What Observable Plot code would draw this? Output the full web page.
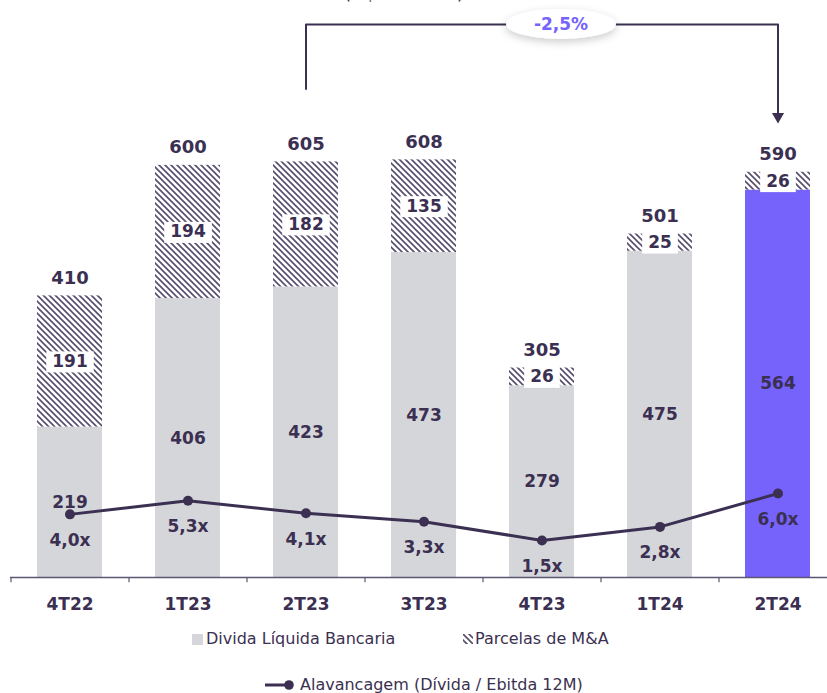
<!DOCTYPE html>
<html><head><meta charset="utf-8">
<script src="https://cdn.jsdelivr.net/npm/d3@7"></script>
<script src="https://cdn.jsdelivr.net/npm/@observablehq/plot@0.6"></script>
<style>
body{margin:0;background:#fff;font-family:"DejaVu Sans",Verdana,sans-serif;}
#wrap{position:relative;width:827px;height:693px;overflow:hidden;}
#chart{position:absolute;left:0;top:0;}
.leg{position:absolute;display:flex;align-items:center;font-size:16px;color:#3b3050;white-space:nowrap;line-height:20px;}
.top{position:absolute;left:0;width:808px;text-align:center;top:-20px;font-size:19px;color:#3b3050;line-height:24px;}
</style></head><body>
<svg width="0" height="0" style="position:absolute">
<defs>
<pattern id="hatch" patternUnits="userSpaceOnUse" width="6" height="6">
<rect width="6" height="6" fill="#fff"/>
<path d="M-1,-1 L7,7 M-1,5 L1,7 M5,-1 L7,1" stroke="#564d6e" stroke-width="1.6"/>
</pattern>
<filter id="shadow" x="-40%" y="-80%" width="180%" height="260%">
<feDropShadow dx="0" dy="3" stdDeviation="4" flood-color="#000" flood-opacity="0.2"/>
</filter>
</defs></svg>
<div id="wrap">
<div class="top">(R$ milhões)</div>
<div id="chart"></div>
<div class="leg" style="left:192px;top:629px;"><span style="display:inline-block;width:11px;height:11px;background:#d5d6d9;margin-right:3px"></span>Divida Líquida Bancaria</div>
<div class="leg" style="left:463px;top:629px;"><svg width="10" height="10" style="margin-right:2px"><rect width="10" height="10" fill="url(#hatch)"/></svg>Parcelas de M&amp;A</div>
<div class="leg" style="left:265px;top:675px;"><svg width="33" height="12" style="margin-right:2px"><line x1="0" y1="6" x2="24" y2="6" stroke="#3b2f52" stroke-width="3"/><circle cx="24" cy="6" r="4.8" fill="#3b2f52"/></svg>Alavancagem (Dívida / Ebitda 12M)</div>
</div>
<script>
const categories = ["4T22","1T23","2T23","3T23","4T23","1T24","2T24"];
const divida = [219, 406, 423, 473, 279, 475, 564];
const parcelas = [191, 194, 182, 135, 26, 25, 26];
const totals = [410, 600, 605, 608, 305, 501, 590];
const alavancagem = [4.0, 5.3, 4.1, 3.3, 1.5, 2.8, 6.0];
const alavLabels = ["4,0x","5,3x","4,1x","3,3x","1,5x","2,8x","6,0x"];
const variacaoLabel = "-2,5%";
const bracketFrom = "2T23", bracketTo = "2T24";
const highlight = "2T24";

const ink = "#3b2f52", gray = "#d5d6d9", purple = "#7563fc", axisColor = "#5e5672";

const rows = categories.map((c, i) => ({
  cat: c, divida: divida[i], parcelas: parcelas[i], top: divida[i] + parcelas[i],
  total: totals[i], alav: alavancagem[i], alavLabel: alavLabels[i]
}));

// secondary axis for leverage (Dívida / Ebitda), drawn on the same y scale
const lev = d3.scaleLinear().domain([0, 6]).range([31.1, 122.3]);

const iFrom = categories.indexOf(bracketFrom), iTo = categories.indexOf(bracketTo);
const bracketTop = d3.max(totals) + 197;
const bracket = [
  {cat: bracketFrom, v: totals[iFrom] + 106},
  {cat: bracketFrom, v: bracketTop},
  {cat: bracketTo, v: bracketTop},
  {cat: bracketTo, v: totals[iTo] + 84}
];

const plot = Plot.plot({
  width: 827, height: 620,
  marginTop: 0, marginLeft: 10, marginRight: 0, marginBottom: 43,
  x: {domain: categories, range: [10, 836], paddingInner: 0.45, paddingOuter: 0.225, axis: null},
  y: {domain: [0, 840], axis: null},
  color: {type: "identity"},
  style: {fontFamily: "'DejaVu Sans', Verdana, sans-serif", color: ink, overflow: "visible", background: "transparent"},
  marks: [
    Plot.barY(rows, {x: "cat", y1: 0, y2: "divida", fill: d => d.cat === highlight ? purple : gray}),
    Plot.barY(rows, {x: "cat", y1: "divida", y2: "top", fill: "url(#hatch)"}),
    Plot.ruleY([0], {stroke: axisColor, strokeWidth: 1.5}),
    Plot.ruleX(categories, {x: d => d, dx: -59, y1: 0, y2: -7.5, stroke: axisColor, strokeWidth: 1.2}),
    Plot.text(categories, {x: d => d, frameAnchor: "bottom", dy: 32, text: d => d, fontSize: 17, fontWeight: "bold", fill: ink}),
    Plot.text(rows, {x: "cat", y: "top", dy: -18, text: d => String(d.total), fontSize: 18, fontWeight: "bold", fill: ink}),
    Plot.text(rows, {x: "cat", y: d => d.divida + d.parcelas / 2, text: d => String(d.parcelas), fontSize: 17, fontWeight: "bold", fill: ink, ariaDescription: "hatch-label"}),
    Plot.text(rows, {x: "cat", y: d => d.divida / 2, text: d => String(d.divida), fontSize: 17, fontWeight: "bold", fill: ink}),
    Plot.line(rows, {x: "cat", y: d => lev(d.alav), stroke: ink, strokeWidth: 3}),
    Plot.dot(rows, {x: "cat", y: d => lev(d.alav), r: 5, fill: ink}),
    Plot.text(rows, {x: "cat", y: d => lev(d.alav), dy: 26, text: "alavLabel", fontSize: 17, fontWeight: "bold", fill: ink}),
    Plot.line(bracket, {x: "cat", y: "v", stroke: ink, strokeWidth: 2}),
    Plot.dot([bracket[3]], {x: "cat", y: "v", symbol: "triangle", rotate: 180, r: 4.5, fill: ink, dy: 2}),
    Plot.text([variacaoLabel], {x: () => categories[Math.round((iFrom + iTo) / 2)], y: () => bracketTop, dx: 19, text: d => d, fontSize: 17, fontWeight: "bold", fill: purple, ariaDescription: "pill-label"})
  ]
});
document.getElementById("chart").appendChild(plot);

function shapeFor(sel, tag, fn) {
  d3.select(plot).selectAll(sel).each(function() {
    const b = this.getBBox();
    const r = document.createElementNS("http://www.w3.org/2000/svg", tag);
    fn(r, b);
    const t = this.getAttribute("transform"); if (t) r.setAttribute("transform", t);
    this.parentNode.insertBefore(r, this);
  });
}
// white boxes behind M&A labels
shapeFor('g[aria-description="hatch-label"] text', "rect", (r, b) => {
  r.setAttribute("x", b.x - 6); r.setAttribute("y", b.y + 0.5);
  r.setAttribute("width", b.width + 12); r.setAttribute("height", b.height + 1);
  r.setAttribute("fill", "#fff");
});
// pill behind the variation label
shapeFor('g[aria-description="pill-label"] text', "ellipse", (r, b) => {
  r.setAttribute("cx", b.x + b.width / 2); r.setAttribute("cy", b.y + b.height / 2);
  r.setAttribute("rx", 55); r.setAttribute("ry", 15);
  r.setAttribute("fill", "#fff"); r.setAttribute("filter", "url(#shadow)");
});
</script>
</body></html>
